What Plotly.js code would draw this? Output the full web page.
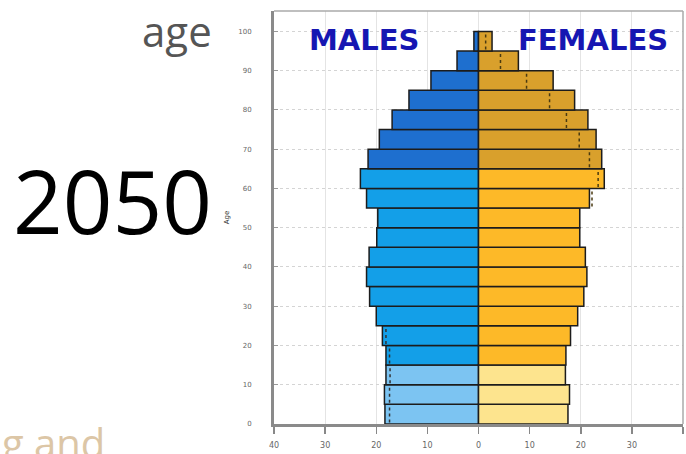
<!DOCTYPE html>
<html>
<head>
<meta charset="utf-8">
<script src="https://cdn.plot.ly/plotly-3.0.1.min.js"></script>
<style>html,body{margin:0;padding:0;background:#fff;}#chart{width:686px;height:454px;}</style>
</head>
<body>
<div id="chart"></div>
<script>
// Age groups (start year of each 5-year band)
const ageStart = [0,5,10,15,20,25,30,35,40,45,50,55,60,65,70,75,80,85,90,95];
// Percent-scale population by band, 2050
const males   = [18.3,18.4,18.1,18.1,18.8,20.0,21.3,21.9,21.4,19.9,19.7,21.9,23.1,21.6,19.4,16.9,13.6,9.3,4.2,0.9];
const females = [17.5,17.8,17.0,17.1,18.0,19.4,20.6,21.2,20.9,19.8,19.8,21.7,24.6,24.1,23.0,21.4,18.8,14.6,7.8,2.65];
// Dotted comparison markers inside bars
const maleRef   = [17.4,17.4,17.3,17.4,18.1,null,null,null,null,null,null,null,null,null,null,null,null,null,null,null];
const femaleRef = [null,null,null,null,null,null,null,null,null,null,null,22.2,23.4,21.7,19.7,17.2,13.9,9.4,4.3,1.4];
// Axis ticks
const xTickVals = [-40,-30,-20,-10,0,10,20,30,40];
const xTickText = ['40','30','20','10','0','10','20','30','40'];
const yTickVals = [0,10,20,30,40,50,60,70,80,90,100];

const maleColors   = {young:'#7cc4f2', work:'#139fe8', old:'#1e6fcf'};
const femaleColors = {young:'#fde48e', work:'#fdb928', old:'#d9a02c'};
function band(a){ return a < 15 ? 'young' : (a < 65 ? 'work' : 'old'); }

const yMid = ageStart.map(a => a + 2.5);

function refSegments(refs, sign){
  const xs = [], ys = [];
  refs.forEach((v,i) => {
    if (v === null) return;
    xs.push(sign*v, sign*v, null);
    ys.push(ageStart[i]+0.4, ageStart[i]+4.6, null);
  });
  return {xs, ys};
}
const mRef = refSegments(maleRef, -1);
const fRef = refSegments(femaleRef, 1);

const traces = [
  {type:'bar', orientation:'h', y:yMid, x:males.map(v=>-v), width:5,
   marker:{color:ageStart.map(a=>maleColors[band(a)]), line:{color:'#1c1c1c', width:1.5}},
   hoverinfo:'skip', showlegend:false},
  {type:'bar', orientation:'h', y:yMid, x:females, width:5,
   marker:{color:ageStart.map(a=>femaleColors[band(a)]), line:{color:'#1c1c1c', width:1.5}},
   hoverinfo:'skip', showlegend:false},
  {type:'scatter', mode:'lines', x:mRef.xs, y:mRef.ys, connectgaps:false,
   line:{color:'#333', width:1.5, dash:'dot'}, hoverinfo:'skip', showlegend:false},
  {type:'scatter', mode:'lines', x:fRef.xs, y:fRef.ys, connectgaps:false,
   line:{color:'#4a3a10', width:1.5, dash:'dot'}, hoverinfo:'skip', showlegend:false}
];

const L = 274, R = 683, T = 11, B = 424;
const px = x => (x - L) / (R - L);
const py = y => (B - y) / (B - T);

const layout = {
  width:686, height:454,
  margin:{l:L, r:686-R, t:T, b:454-B, pad:0},
  paper_bgcolor:'#fff', plot_bgcolor:'#fff',
  barmode:'overlay', bargap:0,
  showlegend:false,
  xaxis:{range:[-40,40], tickvals:xTickVals, ticktext:xTickText,
    ticks:'outside', ticklen:7, tickwidth:1.5, tickcolor:'#888',
    tickfont:{family:'DejaVu Sans', size:8, color:'#666'}, ticklabelstandoff:5,
    showgrid:true, gridcolor:'#e4e4e4', gridwidth:1,
    zeroline:false, showline:true, linecolor:'#8a8a8a', linewidth:2.5, mirror:false, fixedrange:true},
  yaxis:{range:[0,105.2], tickvals:yTickVals,
    ticks:'inside', ticklen:4, tickwidth:1, tickcolor:'#999',
    tickfont:{family:'DejaVu Sans', size:7, color:'#666'}, ticklabelstandoff:18,
    title:{text:'Age', font:{family:'DejaVu Sans', size:7, color:'#333'}, standoff:8},
    showgrid:true, gridcolor:'#d4d4d4', gridwidth:1, griddash:'dot',
    zeroline:false, showline:true, linecolor:'#8a8a8a', linewidth:3, fixedrange:true},
  shapes:[
    {type:'line', xref:'paper', yref:'paper', x0:0, x1:1, y0:1, y1:1, line:{color:'#aaa', width:1.5}},
    {type:'line', xref:'paper', yref:'paper', x0:1, x1:1, y0:0, y1:1, line:{color:'#aaa', width:1.5}}
  ],
  annotations:[
    {xref:'paper', yref:'paper', x:px(364), y:py(40), xanchor:'center', yanchor:'middle',
     text:'<b>MALES</b>', showarrow:false, font:{family:'DejaVu Sans', size:29, color:'#1616b2'}},
    {xref:'paper', yref:'paper', x:px(593), y:py(40), xanchor:'center', yanchor:'middle',
     text:'<b>FEMALES</b>', showarrow:false, font:{family:'DejaVu Sans', size:29, color:'#1616b2'}},
    {xref:'paper', yref:'paper', x:px(214), y:py(30), xanchor:'right', yanchor:'middle',
     text:'age', showarrow:false, font:{family:'Open Sans', size:42, color:'#555'}},
    {xref:'paper', yref:'paper', x:px(214), y:py(200), xanchor:'right', yanchor:'middle',
     text:'2050', showarrow:false, font:{family:'Open Sans', size:87, color:'#000'}},
    {xref:'paper', yref:'paper', x:px(0), y:py(442), xanchor:'left', yanchor:'middle',
     text:'g and', showarrow:false, font:{family:'Open Sans', size:40, color:'#dcc6a6'}}
  ]
};

Plotly.newPlot('chart', traces, layout, {displayModeBar:false, staticPlot:true});
</script>
</body>
</html>
